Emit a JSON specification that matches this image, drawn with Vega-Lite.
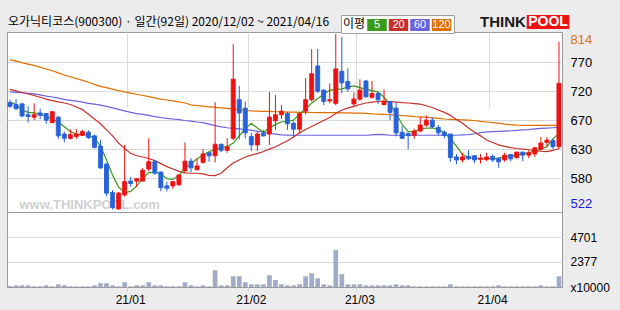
{
"$schema": "https://vega.github.io/schema/vega-lite/v6.json",
"width": 555, "height": 255,
"autosize": "none",
"padding": {"left": 7, "top": 32, "right": 58, "bottom": 23},
"background": "#ececec",
"view": {"fill": "#ffffff", "stroke": "#9a9a9a", "strokeWidth": 1},
"title": {"text": "오가닉티코스(900300) · 일간(92일) 2020/12/02 ~ 2021/04/16", "anchor": "start", "frame": "group", "font": "Noto Sans CJK KR", "fontSize": 12, "fontWeight": "normal", "color": "#000000", "baseline": "bottom", "offset": -27, "dx": 1},
"data": {"values": [
{"date":"2020-12-02","open":700,"high":705,"low":691,"close":694,"volume":95,"ma5":701,"ma20":722,"ma60":718,"ma120":771.5},
{"date":"2020-12-03","open":697,"high":706,"low":688,"close":690,"volume":158,"ma5":697,"ma20":719.5,"ma60":717,"ma120":769},
{"date":"2020-12-04","open":698,"high":700,"low":676,"close":678,"volume":158,"ma5":688,"ma20":717,"ma60":716.5,"ma120":766.5},
{"date":"2020-12-07","open":680,"high":694,"low":667,"close":677,"volume":158,"ma5":684,"ma20":714.5,"ma60":715.5,"ma120":764},
{"date":"2020-12-08","open":676,"high":699,"low":671,"close":680,"volume":63,"ma5":683,"ma20":712,"ma60":714.5,"ma120":762},
{"date":"2020-12-09","open":683,"high":690,"low":673,"close":679,"volume":63,"ma5":681,"ma20":709,"ma60":713,"ma120":759},
{"date":"2020-12-10","open":682,"high":683,"low":665,"close":671,"volume":158,"ma5":677,"ma20":706,"ma60":711,"ma120":756},
{"date":"2020-12-11","open":667,"high":686,"low":666,"close":685,"volume":63,"ma5":673,"ma20":703.5,"ma60":709.5,"ma120":753},
{"date":"2020-12-14","open":676,"high":678,"low":640,"close":645,"volume":253,"ma5":668,"ma20":701.5,"ma60":707.5,"ma120":749.5},
{"date":"2020-12-15","open":648,"high":652,"low":634,"close":641,"volume":158,"ma5":660,"ma20":699.5,"ma60":705.5,"ma120":746},
{"date":"2020-12-16","open":641,"high":656,"low":639,"close":647,"volume":63,"ma5":652,"ma20":697,"ma60":704,"ma120":743},
{"date":"2020-12-17","open":644,"high":656,"low":640,"close":648,"volume":63,"ma5":648,"ma20":693,"ma60":702.5,"ma120":740},
{"date":"2020-12-18","open":646,"high":655,"low":645,"close":652,"volume":63,"ma5":647,"ma20":688.5,"ma60":701,"ma120":737},
{"date":"2020-12-21","open":651,"high":654,"low":640,"close":642,"volume":63,"ma5":646,"ma20":681,"ma60":699,"ma120":734},
{"date":"2020-12-22","open":645,"high":647,"low":624,"close":626,"volume":158,"ma5":641,"ma20":673,"ma60":697.5,"ma120":730.5},
{"date":"2020-12-23","open":628,"high":638,"low":590,"close":592,"volume":348,"ma5":628,"ma20":665,"ma60":696,"ma120":727},
{"date":"2020-12-24","open":598,"high":600,"low":545,"close":550,"volume":348,"ma5":605,"ma20":655,"ma60":694,"ma120":725},
{"date":"2020-12-28","open":551,"high":555,"low":523,"close":526,"volume":158,"ma5":580,"ma20":645,"ma60":691.5,"ma120":722.5},
{"date":"2020-12-29","open":524,"high":552,"low":522,"close":550,"volume":63,"ma5":560,"ma20":633,"ma60":689,"ma120":720},
{"date":"2020-12-30","open":547,"high":630,"low":544,"close":569,"volume":442,"ma5":551,"ma20":624,"ma60":686.5,"ma120":718},
{"date":"2021-01-04","open":570,"high":577,"low":561,"close":566,"volume":63,"ma5":553,"ma20":616,"ma60":684,"ma120":716},
{"date":"2021-01-05","open":570,"high":575,"low":560,"close":574,"volume":158,"ma5":562,"ma20":612,"ma60":682,"ma120":714},
{"date":"2021-01-06","open":570,"high":592,"low":569,"close":588,"volume":158,"ma5":574,"ma20":610,"ma60":680.5,"ma120":712},
{"date":"2021-01-07","open":590,"high":641,"low":586,"close":602,"volume":442,"ma5":584,"ma20":607.5,"ma60":679,"ma120":710},
{"date":"2021-01-08","open":602,"high":605,"low":580,"close":583,"volume":158,"ma5":585,"ma20":604,"ma60":677,"ma120":708},
{"date":"2021-01-11","open":585,"high":586,"low":553,"close":559,"volume":158,"ma5":582,"ma20":599,"ma60":675.5,"ma120":706},
{"date":"2021-01-12","open":562,"high":569,"low":553,"close":558,"volume":63,"ma5":574,"ma20":594,"ma60":674,"ma120":704.5},
{"date":"2021-01-13","open":562,"high":570,"low":557,"close":569,"volume":63,"ma5":573,"ma20":590,"ma60":673,"ma120":703},
{"date":"2021-01-14","open":564,"high":581,"low":562,"close":580,"volume":63,"ma5":579,"ma20":586,"ma60":672,"ma120":701.5},
{"date":"2021-01-15","open":587,"high":634,"low":585,"close":603,"volume":442,"ma5":591,"ma20":583.5,"ma60":670.5,"ma120":699.5},
{"date":"2021-01-18","open":603,"high":608,"low":585,"close":592,"volume":158,"ma5":599,"ma20":583,"ma60":669.5,"ma120":696.5},
{"date":"2021-01-19","open":589,"high":607,"low":587,"close":595,"volume":63,"ma5":607,"ma20":583,"ma60":668,"ma120":695.3},
{"date":"2021-01-20","open":601,"high":623,"low":599,"close":615,"volume":158,"ma5":613,"ma20":582,"ma60":667,"ma120":694.2},
{"date":"2021-01-21","open":617,"high":618,"low":602,"close":612,"volume":63,"ma5":619,"ma20":579.5,"ma60":664.5,"ma120":693.2},
{"date":"2021-01-22","open":612,"high":701,"low":601,"close":631,"volume":1580,"ma5":622,"ma20":579,"ma60":662,"ma120":692.2},
{"date":"2021-01-25","open":631,"high":632,"low":618,"close":621,"volume":158,"ma5":626,"ma20":583,"ma60":660,"ma120":691.4},
{"date":"2021-01-26","open":621,"high":641,"low":617,"close":627,"volume":158,"ma5":627,"ma20":592,"ma60":658.5,"ma120":690.5},
{"date":"2021-01-27","open":641,"high":797,"low":638,"close":739,"volume":1011,"ma5":633,"ma20":600,"ma60":657.5,"ma120":689.5},
{"date":"2021-01-28","open":705,"high":728,"low":639,"close":683,"volume":1011,"ma5":645,"ma20":605,"ma60":656.5,"ma120":688.5},
{"date":"2021-01-29","open":691,"high":702,"low":641,"close":650,"volume":442,"ma5":657,"ma20":610,"ma60":655.5,"ma120":687.5},
{"date":"2021-02-01","open":644,"high":650,"low":620,"close":630,"volume":253,"ma5":666,"ma20":613,"ma60":654.5,"ma120":686.5},
{"date":"2021-02-02","open":630,"high":652,"low":620,"close":648,"volume":253,"ma5":658,"ma20":615.5,"ma60":652.5,"ma120":686},
{"date":"2021-02-03","open":649,"high":655,"low":644,"close":645,"volume":253,"ma5":651,"ma20":619,"ma60":651,"ma120":685.7},
{"date":"2021-02-04","open":648,"high":718,"low":630,"close":676,"volume":1106,"ma5":658,"ma20":623,"ma60":649.3,"ma120":685.5},
{"date":"2021-02-05","open":670,"high":713,"low":655,"close":680,"volume":664,"ma5":664,"ma20":627,"ma60":648,"ma120":685},
{"date":"2021-02-08","open":680,"high":696,"low":673,"close":686,"volume":253,"ma5":668,"ma20":632,"ma60":646.5,"ma120":684.7},
{"date":"2021-02-09","open":682,"high":685,"low":655,"close":665,"volume":158,"ma5":669,"ma20":637,"ma60":646.2,"ma120":684.5},
{"date":"2021-02-10","open":666,"high":669,"low":643,"close":656,"volume":158,"ma5":671,"ma20":643,"ma60":646,"ma120":684.3},
{"date":"2021-02-15","open":656,"high":685,"low":649,"close":682,"volume":253,"ma5":681,"ma20":650,"ma60":646,"ma120":684},
{"date":"2021-02-16","open":686,"high":741,"low":680,"close":705,"volume":1011,"ma5":690,"ma20":655.5,"ma60":646,"ma120":684},
{"date":"2021-02-17","open":705,"high":789,"low":702,"close":748,"volume":1296,"ma5":699,"ma20":660.5,"ma60":646,"ma120":683.8},
{"date":"2021-02-18","open":761,"high":789,"low":716,"close":719,"volume":822,"ma5":707,"ma20":665.5,"ma60":646,"ma120":683.6},
{"date":"2021-02-19","open":721,"high":722,"low":696,"close":702,"volume":253,"ma5":714,"ma20":670.5,"ma60":646,"ma120":683.5},
{"date":"2021-02-22","open":703,"high":732,"low":699,"close":705,"volume":158,"ma5":721,"ma20":675.5,"ma60":646,"ma120":683.4},
{"date":"2021-02-23","open":699,"high":814,"low":696,"close":756,"volume":3476,"ma5":722,"ma20":682,"ma60":646,"ma120":683.4},
{"date":"2021-02-24","open":752,"high":809,"low":716,"close":733,"volume":1201,"ma5":723,"ma20":688,"ma60":646,"ma120":683.2},
{"date":"2021-02-25","open":735,"high":757,"low":718,"close":723,"volume":253,"ma5":726,"ma20":691,"ma60":646,"ma120":683},
{"date":"2021-02-26","open":698,"high":717,"low":695,"close":706,"volume":253,"ma5":728,"ma20":694,"ma60":646,"ma120":682.8},
{"date":"2021-03-02","open":706,"high":739,"low":703,"close":721,"volume":253,"ma5":725,"ma20":697,"ma60":646,"ma120":682.6},
{"date":"2021-03-03","open":736,"high":738,"low":708,"close":710,"volume":158,"ma5":722,"ma20":699.5,"ma60":646,"ma120":682.4},
{"date":"2021-03-04","open":709,"high":736,"low":707,"close":715,"volume":158,"ma5":720,"ma20":701,"ma60":646.5,"ma120":681.5},
{"date":"2021-03-05","open":715,"high":718,"low":698,"close":705,"volume":158,"ma5":718,"ma20":702,"ma60":647.5,"ma120":681},
{"date":"2021-03-08","open":697,"high":722,"low":696,"close":702,"volume":158,"ma5":709,"ma20":702.5,"ma60":647,"ma120":680.5},
{"date":"2021-03-09","open":702,"high":702,"low":671,"close":684,"volume":158,"ma5":697,"ma20":702,"ma60":646,"ma120":680},
{"date":"2021-03-10","open":691,"high":700,"low":644,"close":650,"volume":253,"ma5":683,"ma20":701,"ma60":646,"ma120":679.5},
{"date":"2021-03-11","open":651,"high":661,"low":640,"close":641,"volume":158,"ma5":664,"ma20":700,"ma60":646,"ma120":678.8},
{"date":"2021-03-12","open":649,"high":650,"low":623,"close":646,"volume":158,"ma5":652,"ma20":699.5,"ma60":646,"ma120":678},
{"date":"2021-03-15","open":646,"high":657,"low":640,"close":653,"volume":63,"ma5":652,"ma20":698.5,"ma60":646,"ma120":677},
{"date":"2021-03-16","open":653,"high":676,"low":651,"close":663,"volume":63,"ma5":656,"ma20":697.5,"ma60":646,"ma120":676.5},
{"date":"2021-03-17","open":663,"high":679,"low":660,"close":671,"volume":63,"ma5":658,"ma20":695,"ma60":646,"ma120":676},
{"date":"2021-03-18","open":671,"high":676,"low":658,"close":660,"volume":63,"ma5":658,"ma20":692,"ma60":646,"ma120":675},
{"date":"2021-03-19","open":659,"high":663,"low":646,"close":650,"volume":63,"ma5":656,"ma20":688,"ma60":646,"ma120":674},
{"date":"2021-03-22","open":651,"high":654,"low":641,"close":646,"volume":63,"ma5":650,"ma20":684,"ma60":646,"ma120":673},
{"date":"2021-03-23","open":648,"high":648,"low":602,"close":609,"volume":253,"ma5":640,"ma20":679,"ma60":646,"ma120":672.5},
{"date":"2021-03-24","open":610,"high":615,"low":598,"close":605,"volume":63,"ma5":628,"ma20":672,"ma60":646,"ma120":672},
{"date":"2021-03-25","open":605,"high":617,"low":601,"close":610,"volume":63,"ma5":614,"ma20":666,"ma60":646.5,"ma120":671.5},
{"date":"2021-03-26","open":611,"high":621,"low":605,"close":607,"volume":63,"ma5":609,"ma20":658,"ma60":647,"ma120":671},
{"date":"2021-03-29","open":612,"high":613,"low":600,"close":605,"volume":63,"ma5":608,"ma20":651,"ma60":648.5,"ma120":670.5},
{"date":"2021-03-30","open":606,"high":615,"low":599,"close":608,"volume":63,"ma5":607,"ma20":645,"ma60":650.5,"ma120":669},
{"date":"2021-03-31","open":606,"high":617,"low":603,"close":610,"volume":63,"ma5":607,"ma20":638,"ma60":651.5,"ma120":668},
{"date":"2021-04-01","open":611,"high":614,"low":602,"close":605,"volume":63,"ma5":607,"ma20":634,"ma60":652,"ma120":667},
{"date":"2021-04-02","open":607,"high":610,"low":592,"close":602,"volume":158,"ma5":608,"ma20":630,"ma60":652.5,"ma120":666},
{"date":"2021-04-05","open":605,"high":617,"low":602,"close":613,"volume":63,"ma5":610,"ma20":627.5,"ma60":653,"ma120":664.5},
{"date":"2021-04-06","open":614,"high":615,"low":603,"close":607,"volume":63,"ma5":611,"ma20":625.5,"ma60":653.5,"ma120":663.5},
{"date":"2021-04-07","open":609,"high":619,"low":607,"close":618,"volume":63,"ma5":613,"ma20":624,"ma60":654,"ma120":662.8},
{"date":"2021-04-08","open":618,"high":619,"low":603,"close":613,"volume":63,"ma5":615,"ma20":623,"ma60":655,"ma120":662.5},
{"date":"2021-04-09","open":613,"high":621,"low":608,"close":617,"volume":63,"ma5":617,"ma20":622,"ma60":655.5,"ma120":662.5},
{"date":"2021-04-12","open":615,"high":627,"low":610,"close":625,"volume":63,"ma5":620,"ma20":620.5,"ma60":656.5,"ma120":662.5},
{"date":"2021-04-13","open":623,"high":643,"low":620,"close":633,"volume":158,"ma5":623,"ma20":619.5,"ma60":657.5,"ma120":662.5},
{"date":"2021-04-14","open":634,"high":643,"low":627,"close":638,"volume":63,"ma5":627,"ma20":619,"ma60":658,"ma120":662.5},
{"date":"2021-04-15","open":637,"high":641,"low":623,"close":627,"volume":63,"ma5":640,"ma20":621,"ma60":658.5,"ma120":662.5},
{"date":"2021-04-16","open":627,"high":801,"low":623,"close":732,"volume":1011,"ma5":649,"ma20":624,"ma60":659,"ma120":662.5}
]},
"resolve": {"scale": {"y": "independent"}, "axis": {"y": "independent", "x": "independent"}},
"layer": [
{
 "transform": [{"fold": ["ma120", "ma60", "ma20", "ma5"], "as": ["ma", "val"]}],
 "mark": {"type": "line", "strokeWidth": 1.2},
 "encoding": {
  "x": {"field": "date", "type": "ordinal", "scale": {"type": "band", "paddingInner": 0, "paddingOuter": 0}, "axis": null},
  "y": {"field": "val", "type": "quantitative", "scale": {"domain": [518.7, 817.3], "range": [180, 0], "nice": false, "zero": false}, "axis": null},
  "stroke": {"field": "ma", "type": "nominal",
   "scale": {"domain": ["ma5", "ma20", "ma60", "ma120"], "range": ["#3a9a1a", "#c8302c", "#6a63dd", "#e07000"]},
   "legend": {"orient": "none", "legendX": 334, "legendY": -17, "direction": "horizontal",
    "title": "이평", "titleOrient": "left", "titleFont": "Noto Sans CJK KR", "titleFontSize": 12, "titleFontWeight": "normal", "titleColor": "#000000", "titlePadding": 3,
    "symbolType": "M-1.22,-0.75H1.22V0.75H-1.22Z", "symbolSize": 256, "symbolStrokeWidth": 0,
    "labelAlign": "center", "labelOffset": -8, "labelColor": "#ffffff", "labelFontSize": 11, "labelFont": "Liberation Sans",
    "labelExpr": "slice(datum.label, 2)", "columnPadding": 1.5, "padding": 2,
    "fillColor": "#ffffff", "strokeColor": "#a0a0a0",
    "encode": {"symbols": {"update": {"fill": {"signal": "datum.value === 'ma5' ? '#3a9a1a' : datum.value === 'ma20' ? '#c8302c' : datum.value === 'ma60' ? '#6a63dd' : '#e07000'"}, "fillOpacity": {"value": 1}}}}
   }
  }
 }
},
{
 "mark": {"type": "rule", "strokeWidth": 1},
 "encoding": {
  "x": {"field": "date", "type": "ordinal", "scale": {"type": "band", "paddingInner": 0, "paddingOuter": 0}, "axis": null},
  "y": {"field": "low", "type": "quantitative", "scale": {"domain": [518.7, 817.3], "range": [180, 0], "nice": false, "zero": false},
   "axis": {"orient": "right", "values": [522, 575.1, 623.2, 671.3, 718.9, 767.0, 814],
    "labelExpr": "datum.value == 814 ? '814' : datum.value == 522 ? '522' : datum.value > 760 ? '770' : datum.value > 700 ? '720' : datum.value > 650 ? '670' : datum.value > 600 ? '630' : '580'",
    "title": null, "domain": false, "ticks": false, "labelPadding": 8, "grid": true, "gridColor": "#d9d9d9",
    "gridOpacity": {"condition": {"test": "datum.value > 800 || datum.value < 530", "value": 0}, "value": 1},
    "labelColor": {"condition": [{"test": "datum.value > 800", "value": "#d9700b"}, {"test": "datum.value < 530", "value": "#1a1adc"}], "value": "#000000"},
    "labelFlush": 6, "labelAlign": "left"}},
  "y2": {"field": "high"},
  "color": {"condition": {"test": "datum.close >= datum.open", "value": "#ee1111"}, "value": "#1c5ee2"}
 }
},
{
 "mark": {"type": "bar", "width": {"band": 0.66}, "strokeWidth": 1},
 "encoding": {
  "x": {"field": "date", "type": "ordinal", "scale": {"type": "band", "paddingInner": 0, "paddingOuter": 0}, "axis": null},
  "y": {"field": "open", "type": "quantitative", "scale": {"domain": [518.7, 817.3], "range": [180, 0], "nice": false, "zero": false},
   "axis": {"orient": "left", "labels": false, "ticks": false, "domain": false, "grid": false,
    "title": "www.THINKPOOL.com", "titleAngle": 0, "titleX": 12, "titleY": 176, "titleAlign": "left", "titleBaseline": "alphabetic",
    "titleColor": "#d0d0d0", "titleFontSize": 13, "titleFontWeight": "bold", "titleFont": "Liberation Sans"}},
  "y2": {"field": "close"},
  "color": {"condition": {"test": "datum.close < datum.open", "value": "#2862d8"}, "value": "#ee1111"},
  "stroke": {"condition": {"test": "datum.close < datum.open", "value": "#2862d8"}, "value": "#ee1111"},
  "strokeDash": {"datum": "POOL", "type": "nominal", "scale": {"range": [[1, 0]]},
   "legend": {"orient": "none", "legendX": 473, "legendY": -18, "title": "THINK", "titleOrient": "left",
    "titleFont": "Liberation Sans", "titleFontSize": 15, "titleFontWeight": "bold", "titleColor": "#1a1a1a", "titlePadding": 14,
    "symbolType": "M-2.66,-0.875H2.66V0.875H-2.66Z", "symbolSize": 256, "symbolStrokeWidth": 0,
    "labelAlign": "center", "labelOffset": -8, "labelColor": "#ffffff", "labelFontSize": 14, "labelFontWeight": "bold", "labelFont": "Liberation Sans",
    "padding": 0}}
 }
},
{
 "mark": {"type": "bar", "width": {"band": 0.78}, "color": "#a3acc6"},
 "encoding": {
  "x": {"field": "date", "type": "ordinal", "scale": {"type": "band", "paddingInner": 0, "paddingOuter": 0},
   "axis": {"values": ["2021-01-04", "2021-02-01", "2021-03-02", "2021-04-01"], "bandPosition": 0,
    "labelExpr": "'21/' + slice(datum.value, 5, 7)", "labelAngle": 0, "title": null, "domain": false,
    "ticks": true, "tickColor": "#d0d0d0", "tickSize": 4, "grid": true, "gridColor": "#d9d9d9",
    "labelFontSize": 12, "labelPadding": 3}},
  "y": {"field": "volume", "type": "quantitative", "scale": {"domain": [0, 7052], "range": [255, 180], "nice": false, "zero": true},
   "axis": {"orient": "right", "values": [0, 2350.7, 4701.3, 7052],
    "labelExpr": "datum.value == 0 ? 'x10000' : datum.value > 7000 ? '' : datum.value > 4000 ? '4701' : '2377'",
    "title": null, "domain": false, "ticks": false, "labelPadding": 8, "grid": true,
    "gridColor": {"condition": {"test": "datum.value > 7000", "value": "#9a9a9a"}, "value": "#d9d9d9"},
    "gridOpacity": {"condition": {"test": "datum.value == 0", "value": 0}, "value": 1},
    "labelAlign": "left", "labelFontSize": 12}}
 }
}
],
"config": {
 "font": "Liberation Sans",
 "axis": {"labelFont": "'Liberation Sans Narrow', 'Liberation Sans', sans-serif", "labelColor": "#000000", "labelFontSize": 13}
}
}
